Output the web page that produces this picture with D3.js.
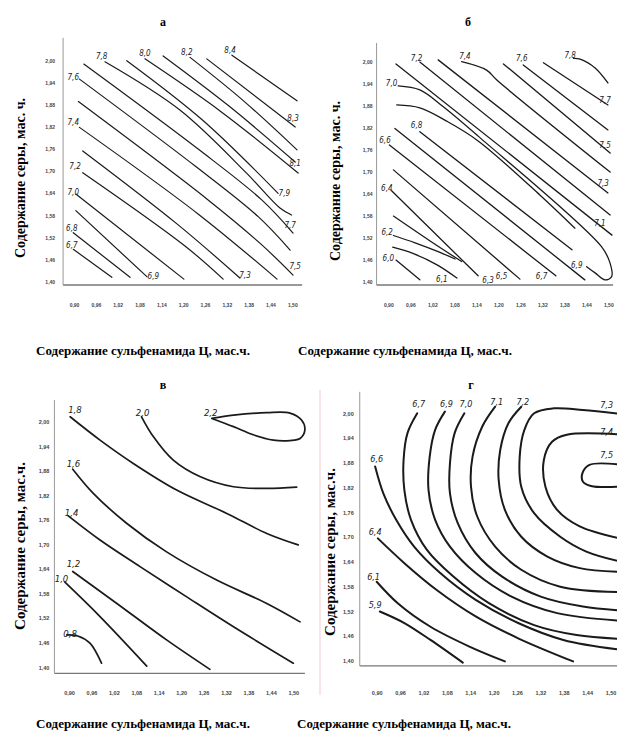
<!DOCTYPE html>
<html>
<head>
<meta charset="utf-8">
<script src="https://cdn.jsdelivr.net/npm/d3@7/dist/d3.min.js"></script>
<style>
  body { margin: 0; background: #fff; }
  svg { display: block; }
</style>
</head>
<body>
<svg id="chart" width="617" height="734"></svg>
<script>
// tick values shared by the four panels
var xTicks = [0.90, 0.96, 1.02, 1.08, 1.14, 1.20, 1.26, 1.32, 1.38, 1.44, 1.50];
var yTicks = [1.40, 1.46, 1.52, 1.58, 1.64, 1.70, 1.76, 1.82, 1.88, 1.94, 2.00];

var panelTitles = ["а", "б", "в", "г"];
var yTitles = ["Содержание серы, мас. ч.", "Содержание серы, мас. ч.",
               "Содержание серы, мас.ч.", "Содержание серы, мас.ч."];
var xTitle = "Содержание сульфенамида Ц, мас.ч.";

// contour lines: [level, [[sulfenamide, sulfur], ...]]
var linesA = [
  [6.7, [[0.898, 1.488], [1.004, 1.412]]],
  [6.8, [[0.898, 1.533], [1.054, 1.412]]],
  [6.9, [[0.905, 1.593], [1.101, 1.413]]],
  [7.0, [[0.905, 1.638], [1.202, 1.407]]],
  [7.2, [[0.924, 1.696], [1.205, 1.497], [1.310, 1.407]]],
  [7.3, [[0.924, 1.755], [1.183, 1.557], [1.356, 1.410]]],
  [7.4, [[0.915, 1.819], [1.241, 1.584], [1.458, 1.407]]],
  [7.5, [[0.912, 1.889], [1.266, 1.624], [1.414, 1.502], [1.502, 1.418]]],
  [7.6, [[0.915, 1.950], [1.233, 1.714], [1.407, 1.576], [1.494, 1.486]]],
  [7.7, [[0.927, 1.991], [1.244, 1.758], [1.416, 1.622], [1.502, 1.532]]],
  [7.8, [[0.985, 1.997], [1.191, 1.866], [1.375, 1.694], [1.466, 1.600], [1.498, 1.581]]],
  [7.9, [[1.045, 2.000], [1.253, 1.839], [1.461, 1.640]]],
  [8.0, [[1.095, 2.005], [1.305, 1.861], [1.516, 1.695]]],
  [8.1, [[1.145, 2.013], [1.326, 1.877], [1.508, 1.725]]],
  [8.2, [[1.219, 2.009], [1.366, 1.891], [1.513, 1.758]]],
  [8.3, [[1.265, 2.005], [1.508, 1.820]]],
  [8.4, [[1.334, 2.015], [1.513, 1.891]]]
];
var labelsA = [
  [6.7, 0.894, 1.500], [6.8, 0.894, 1.545], [7.0, 0.898, 1.644], [7.2, 0.903, 1.714],
  [7.4, 0.898, 1.834], [7.6, 0.898, 1.955], [7.8, 0.976, 2.011], [8.0, 1.095, 2.020],
  [8.2, 1.210, 2.024], [8.4, 1.329, 2.029], [6.9, 1.118, 1.414], [7.3, 1.370, 1.418],
  [7.5, 1.508, 1.441], [7.7, 1.494, 1.554], [7.9, 1.478, 1.640], [8.1, 1.508, 1.721],
  [8.3, 1.502, 1.844]
];

var linesB = [
  [6.0, [[0.921, 1.459], [0.986, 1.405]]],
  [6.1, [[0.912, 1.494], [0.967, 1.477], [1.033, 1.446], [1.087, 1.410]]],
  [6.2, [[0.914, 1.526], [0.973, 1.506], [1.041, 1.480], [1.082, 1.462]]],
  [6.3, [[0.914, 1.579], [1.014, 1.511], [1.100, 1.455]]],
  [6.4, [[0.909, 1.648], [1.145, 1.416]]],
  [6.5, [[0.914, 1.705], [1.259, 1.407]]],
  [6.6, [[0.903, 1.773], [1.357, 1.416]]],
  [6.7, [[0.918, 1.818], [1.436, 1.405]]],
  [6.8, [[0.986, 1.809], [1.401, 1.487]]],
  [6.9, [[0.923, 1.882], [0.986, 1.874], [1.059, 1.838], [1.145, 1.784], [1.314, 1.636], [1.409, 1.546]]],
  [7.0, [[0.927, 1.934], [0.986, 1.923], [1.050, 1.877], [1.145, 1.797], [1.482, 1.495],
         [1.505, 1.450], [1.509, 1.414], [1.491, 1.405], [1.464, 1.424], [1.441, 1.441]]],
  [7.1, [[0.921, 1.994], [1.510, 1.527]]],
  [7.2, [[0.986, 1.999], [1.505, 1.582]]],
  [7.3, [[1.036, 2.005], [1.499, 1.642]]],
  [7.4, [[1.100, 2.000], [1.168, 1.977], [1.196, 1.950], [1.505, 1.699]]],
  [7.5, [[1.214, 1.994], [1.505, 1.751]]],
  [7.6, [[1.268, 1.991], [1.499, 1.814]]],
  [7.7, [[1.323, 1.997], [1.499, 1.882]]],
  [7.8, [[1.405, 2.009], [1.423, 2.007], [1.464, 1.983], [1.499, 1.942]]]
];
var labelsB = [
  [6.0, 0.900, 1.464], [6.1, 1.046, 1.407], [6.2, 0.897, 1.536], [6.3, 1.172, 1.403],
  [6.4, 0.896, 1.655], [6.5, 1.209, 1.414], [6.6, 0.891, 1.786], [6.7, 1.318, 1.416],
  [6.8, 0.977, 1.827], [6.9, 1.414, 1.446], [7.0, 0.909, 1.941], [7.1, 1.477, 1.559],
  [7.2, 0.977, 2.009], [7.3, 1.486, 1.668], [7.4, 1.109, 2.016], [7.5, 1.491, 1.773],
  [7.6, 1.264, 2.009], [7.7, 1.491, 1.896], [7.8, 1.396, 2.018]
];

var linesC = [
  [0.8, [[0.894, 1.479], [0.925, 1.476], [0.956, 1.459], [0.987, 1.410]]],
  [1.0, [[0.889, 1.608], [0.983, 1.524], [1.108, 1.403]]],
  [1.2, [[0.910, 1.634], [1.028, 1.556], [1.161, 1.467], [1.277, 1.395]]],
  [1.4, [[0.898, 1.770], [0.983, 1.711], [1.090, 1.646], [1.215, 1.572], [1.340, 1.499], [1.500, 1.410]]],
  [1.6, [[0.910, 1.884], [0.965, 1.825], [1.054, 1.752], [1.161, 1.682], [1.295, 1.613], [1.429, 1.556], [1.518, 1.511]]],
  [1.8, [[0.903, 2.012], [0.983, 1.955], [1.072, 1.898], [1.188, 1.833], [1.322, 1.776], [1.429, 1.727], [1.513, 1.699]]],
  [2.0, [[1.094, 2.012], [1.126, 1.963], [1.179, 1.906], [1.250, 1.866], [1.340, 1.841], [1.429, 1.837], [1.509, 1.840]]],
  [2.2, [[1.282, 2.008], [1.340, 2.016], [1.429, 2.022], [1.491, 2.021], [1.522, 2.004], [1.531, 1.980],
         [1.518, 1.959], [1.491, 1.954], [1.447, 1.955], [1.393, 1.968], [1.340, 1.988], [1.282, 2.008]]]
];
var labelsC = [
  [0.8, 0.903, 1.483], [1.0, 0.880, 1.617], [1.2, 0.912, 1.652], [1.4, 0.907, 1.778],
  [1.6, 0.912, 1.897], [1.8, 0.916, 2.029], [2.0, 1.097, 2.022], [2.2, 1.279, 2.022]
];

var linesD = [
  [5.9, [[0.908, 1.520], [0.971, 1.492], [1.038, 1.451], [1.121, 1.396]]],
  [6.1, [[0.900, 1.592], [0.954, 1.540], [1.038, 1.483], [1.138, 1.435], [1.229, 1.399]]],
  [6.4, [[0.903, 1.697], [0.971, 1.637], [1.054, 1.572], [1.154, 1.508], [1.263, 1.455], [1.404, 1.399]]],
  [6.6, [[0.896, 1.871], [0.917, 1.806], [0.950, 1.742], [0.996, 1.677], [1.063, 1.613],
         [1.154, 1.548], [1.263, 1.492], [1.379, 1.451], [1.520, 1.428]]],
  [6.7, [[1.004, 2.000], [0.979, 1.952], [0.969, 1.887], [0.971, 1.814], [0.988, 1.742], [1.029, 1.669],
         [1.096, 1.605], [1.188, 1.540], [1.304, 1.487], [1.413, 1.463], [1.520, 1.454]]],
  [6.9, [[1.075, 2.004], [1.050, 1.960], [1.036, 1.895], [1.033, 1.814], [1.050, 1.742], [1.088, 1.677],
         [1.154, 1.613], [1.246, 1.556], [1.363, 1.516], [1.520, 1.498]]],
  [7.0, [[1.125, 2.000], [1.100, 1.952], [1.088, 1.879], [1.088, 1.806], [1.108, 1.734], [1.154, 1.661],
         [1.221, 1.605], [1.321, 1.556], [1.429, 1.532], [1.520, 1.523]]],
  [7.1, [[1.204, 2.016], [1.171, 1.968], [1.146, 1.895], [1.142, 1.822], [1.158, 1.750], [1.204, 1.677],
         [1.271, 1.621], [1.371, 1.580], [1.520, 1.567]]],
  [7.2, [[1.271, 2.016], [1.238, 1.976], [1.217, 1.911], [1.213, 1.839], [1.229, 1.766], [1.271, 1.701],
         [1.338, 1.653], [1.421, 1.625], [1.520, 1.616]]],
  [7.3, [[1.520, 1.999], [1.429, 2.008], [1.354, 2.012], [1.304, 2.000], [1.279, 1.960], [1.267, 1.895],
         [1.271, 1.822], [1.304, 1.758], [1.371, 1.701], [1.438, 1.665], [1.520, 1.642]]],
  [7.4, [[1.520, 1.949], [1.388, 1.948], [1.350, 1.931], [1.329, 1.887], [1.333, 1.822], [1.363, 1.766],
         [1.421, 1.726], [1.520, 1.698]]],
  [7.5, [[1.520, 1.876], [1.446, 1.875], [1.428, 1.855], [1.429, 1.835], [1.450, 1.824], [1.520, 1.822]]]
];
var labelsD = [
  [5.9, 0.896, 1.536], [6.1, 0.892, 1.605], [6.4, 0.896, 1.713], [6.6, 0.900, 1.889],
  [6.7, 1.008, 2.024], [6.9, 1.079, 2.024], [7.0, 1.129, 2.024], [7.1, 1.208, 2.028],
  [7.2, 1.275, 2.028], [7.3, 1.490, 2.020], [7.4, 1.490, 1.956], [7.5, 1.490, 1.899]
];

// page layout of the four panels (pixels)
var layout = [
  { xr: [74, 292.3], yr: [281.7, 60.7], xExt: [0.870, 1.527], yExt: [1.391, 2.062],
    xPad: 18, yPad: 8, title: [163, 26], yLab: [20, 178], xLab: [143, 354.5],
    lw: 1.2, lfs: 8, tfs: 5, yfs: 14 },
  { xr: [388.3, 608.3], yr: [281.7, 61.7], xExt: [0.868, 1.513], yExt: [1.391, 2.051],
    xPad: 18, yPad: 4, title: [468, 26], yLab: [335, 181], xLab: [405, 354.5],
    lw: 1.3, lfs: 8, tfs: 5, yfs: 14 },
  { xr: [69, 293.3], yr: [667.3, 421.7], xExt: [0.861, 1.531], yExt: [1.385, 2.053],
    xPad: 17.5, yPad: 5, title: [163, 389], yLab: [20, 546], xLab: [143, 727.5],
    lw: 1.7, lfs: 9.5, tfs: 5.5, yfs: 15 },
  { xr: [376.7, 610.5], yr: [661, 413.3], xExt: [0.8565, 1.53], yExt: [1.388, 2.052],
    xPad: 24.7, yPad: 6, title: [471, 389], yLab: [330, 552], xLab: [404, 727.5],
    lw: 2, lfs: 9, tfs: 5.5, yfs: 15 }
];

var svg = d3.select("#chart");
svg.append("rect").attr("width", 617).attr("height", 734).attr("fill", "#fff");

// faint scan mark next to panel г
svg.append("line")
    .attr("x1", 320).attr("x2", 320).attr("y1", 390).attr("y2", 695)
    .attr("stroke", "#f3c9cf").attr("stroke-width", 1);

var tickFmt = function(v) { return d3.format(".2f")(v).replace(".", ","); };
var lvlFmt = function(v) { return d3.format(".1f")(v).replace(".", ","); };

function drawPanel(i, lines, labels) {
  var p = layout[i];
  var x = d3.scaleLinear().domain([0.90, 1.50]).range(p.xr);
  var y = d3.scaleLinear().domain([1.40, 2.00]).range(p.yr);
  var g = svg.append("g");

  // axis lines
  g.append("line")
      .attr("x1", x(p.xExt[0])).attr("x2", x(p.xExt[1]))
      .attr("y1", y(p.yExt[0])).attr("y2", y(p.yExt[0]))
      .attr("stroke", "#777").attr("stroke-width", 1.3);
  g.append("line")
      .attr("x1", x(p.xExt[0])).attr("x2", x(p.xExt[0]))
      .attr("y1", y(p.yExt[0])).attr("y2", y(p.yExt[1]))
      .attr("stroke", "#999").attr("stroke-width", 1);

  // tick labels only, no tick marks
  var ax = g.append("g")
      .attr("transform", "translate(0," + y(p.yExt[0]) + ")")
      .call(d3.axisBottom(x).tickValues(xTicks).tickSize(0).tickPadding(p.xPad).tickFormat(tickFmt));
  var ay = g.append("g")
      .attr("transform", "translate(" + x(p.xExt[0]) + ",0)")
      .call(d3.axisLeft(y).tickValues(yTicks).tickSize(0).tickPadding(p.yPad).tickFormat(tickFmt));
  [ax, ay].forEach(function(a) {
    a.select(".domain").remove();
    a.attr("font-size", p.tfs).attr("font-family", "Liberation Sans, Arial, sans-serif")
     .attr("font-weight", "bold").attr("color", "#444");
  });

  // contour lines
  var line = d3.line()
      .x(function(d) { return x(d[0]); })
      .y(function(d) { return y(d[1]); })
      .curve(d3.curveCatmullRom.alpha(0.5));

  g.selectAll("path.iso")
      .data(lines)
    .enter().append("path")
      .attr("class", "iso")
      .attr("d", function(d) { return line(d[1]); })
      .attr("fill", "none")
      .attr("stroke", "#1a1a1a")
      .attr("stroke-width", p.lw)
      .attr("stroke-linecap", "round")
      .attr("stroke-linejoin", "round");

  // hand written level labels
  g.selectAll("text.lvl")
      .data(labels)
    .enter().append("text")
      .attr("class", "lvl")
      .attr("x", function(d) { return x(d[1]); })
      .attr("y", function(d) { return y(d[2]); })
      .attr("dy", "0.35em")
      .attr("text-anchor", "middle")
      .attr("font-family", "DejaVu Sans Condensed, DejaVu Sans, sans-serif")
      .attr("font-style", "italic")
      .attr("font-size", p.lfs)
      .attr("fill", "#222")
      .text(function(d) { return lvlFmt(d[0]); });

  // panel letter and axis titles
  g.append("text")
      .attr("x", p.title[0]).attr("y", p.title[1])
      .attr("text-anchor", "middle")
      .attr("font-family", "Liberation Serif, Times New Roman, serif")
      .attr("font-weight", "bold").attr("font-size", 12)
      .text(panelTitles[i]);

  g.append("text")
      .attr("transform", "translate(" + p.yLab[0] + "," + p.yLab[1] + ") rotate(-90)")
      .attr("dy", "0.35em")
      .attr("text-anchor", "middle")
      .attr("font-family", "Liberation Serif, Times New Roman, serif")
      .attr("font-weight", "bold").attr("font-size", p.yfs)
      .text(yTitles[i]);

  g.append("text")
      .attr("x", p.xLab[0]).attr("y", p.xLab[1])
      .attr("text-anchor", "middle")
      .attr("font-family", "Liberation Serif, Times New Roman, serif")
      .attr("font-weight", "bold").attr("font-size", 13)
      .text(xTitle);
}

drawPanel(0, linesA, labelsA);
drawPanel(1, linesB, labelsB);
drawPanel(2, linesC, labelsC);
drawPanel(3, linesD, labelsD);
</script>
</body>
</html>
